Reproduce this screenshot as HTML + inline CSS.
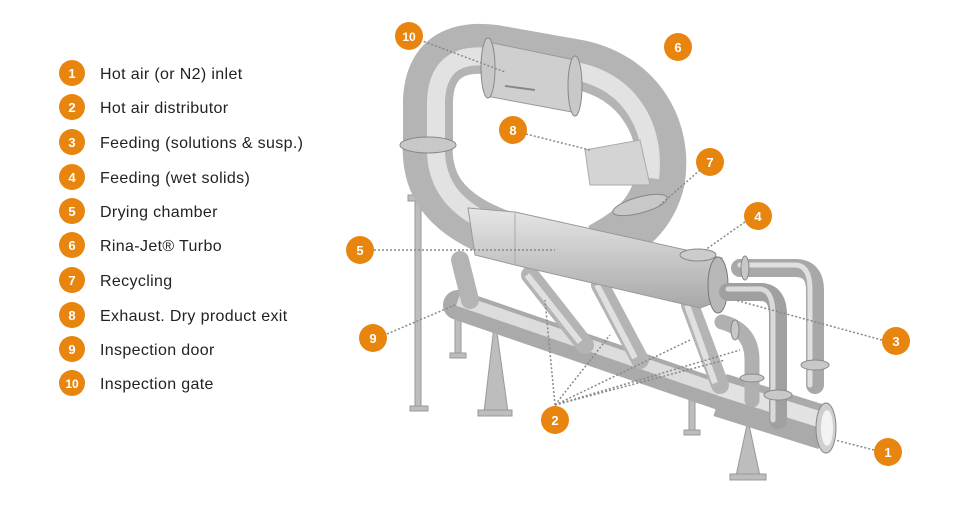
<!DOCTYPE html>
<html><head><meta charset="utf-8"><style>
html,body{margin:0;padding:0;background:#fff;}
body{width:966px;height:514px;overflow:hidden;font-family:"Liberation Sans",sans-serif;}
</style></head><body>
<svg width="966" height="514" viewBox="0 0 966 514" xmlns="http://www.w3.org/2000/svg">
<defs>
<linearGradient id="g1" x1="0" y1="0" x2="0" y2="1"><stop offset="0" stop-color="#e6e6e6"/><stop offset="1" stop-color="#a8a8a8"/></linearGradient>
</defs>
<g font-size="16" fill="#222" letter-spacing="0.35">
<g fill="#e8850f">
<circle cx="72" cy="73" r="13"/><circle cx="72" cy="107" r="13"/><circle cx="72" cy="142" r="13"/><circle cx="72" cy="177" r="13"/><circle cx="72" cy="211" r="13"/><circle cx="72" cy="245" r="13"/><circle cx="72" cy="280" r="13"/><circle cx="72" cy="315" r="13"/><circle cx="72" cy="349" r="13"/><circle cx="72" cy="383" r="13"/>
</g>
<g fill="#fff" font-weight="bold" font-size="13" text-anchor="middle" letter-spacing="0">
<text x="72" y="78">1</text><text x="72" y="112">2</text><text x="72" y="147">3</text><text x="72" y="182">4</text><text x="72" y="216">5</text><text x="72" y="250">6</text><text x="72" y="285">7</text><text x="72" y="320">8</text><text x="72" y="354">9</text><text x="72" y="388" font-size="12">10</text>
</g>
<text x="100" y="79">Hot air (or N2) inlet</text>
<text x="100" y="113">Hot air distributor</text>
<text x="100" y="148">Feeding (solutions &amp; susp.)</text>
<text x="100" y="183">Feeding (wet solids)</text>
<text x="100" y="217">Drying chamber</text>
<text x="100" y="251">Rina-Jet® Turbo</text>
<text x="100" y="286">Recycling</text>
<text x="100" y="321">Exhaust. Dry product exit</text>
<text x="100" y="355">Inspection door</text>
<text x="100" y="389">Inspection gate</text>
</g>

<g fill="#bdbdbd" stroke="#999" stroke-width="1">
<rect x="415" y="198" width="6" height="212"/><rect x="408" y="195" width="20" height="6"/><rect x="410" y="406" width="18" height="5"/>
<rect x="455" y="300" width="6" height="55"/><rect x="450" y="353" width="16" height="5"/>
<polygon points="495,318 484,412 508,412"/><rect x="478" y="410" width="34" height="6"/>
<rect x="689" y="388" width="6" height="45"/><rect x="684" y="430" width="16" height="5"/>
<polygon points="748,420 736,476 760,476"/><rect x="730" y="474" width="36" height="6"/>
</g>

<line x1="458" y1="305" x2="720" y2="395" stroke="#aaa" stroke-width="30" stroke-linecap="round"/>
<line x1="458" y1="300" x2="720" y2="390" stroke="#dcdcdc" stroke-width="12"/>
<line x1="720" y1="395" x2="825" y2="428" stroke="#aaa" stroke-width="44"/>
<line x1="720" y1="388" x2="825" y2="421" stroke="#e2e2e2" stroke-width="16"/>
<ellipse cx="826" cy="428" rx="10" ry="25" fill="#cfcfcf" stroke="#888"/>
<ellipse cx="827" cy="428" rx="6" ry="18" fill="#f3f3f3"/>

<g stroke="#b4b4b4" stroke-width="18" stroke-linecap="round">
<line x1="530" y1="275" x2="585" y2="345"/><line x1="600" y1="285" x2="640" y2="360"/><line x1="690" y1="305" x2="720" y2="385"/>
<line x1="460" y1="260" x2="470" y2="300"/>
</g>
<g stroke="#e0e0e0" stroke-width="6"><line x1="527" y1="275" x2="580" y2="342"/><line x1="597" y1="285" x2="635" y2="358"/><line x1="687" y1="305" x2="715" y2="383"/></g>

<path d="M510 238 C440 215 425 180 428 140 L428 100 C430 55 460 45 495 50 L580 65 C640 78 668 130 660 180 C652 215 630 232 600 248" fill="none" stroke="#b4b4b4" stroke-width="50"/>
<path d="M510 232 C448 210 434 180 436 140 L436 100 C438 62 462 52 495 58 L580 72 C632 84 656 130 650 178" fill="none" stroke="#e2e2e2" stroke-width="18"/>
<polygon points="488,42 575,60 572,112 486,96" fill="#cfcfcf" stroke="#999"/>
<line x1="505" y1="86" x2="535" y2="90" stroke="#888" stroke-width="2"/>
<ellipse cx="488" cy="68" rx="7" ry="30" fill="#c8c8c8" stroke="#888"/>
<ellipse cx="575" cy="86" rx="7" ry="30" fill="#c8c8c8" stroke="#888"/>
<ellipse cx="428" cy="145" rx="28" ry="8" fill="#c8c8c8" stroke="#888"/>
<ellipse cx="640" cy="205" rx="28" ry="8" fill="#c8c8c8" stroke="#888" transform="rotate(-15 640 205)"/>
<polygon points="585,150 640,140 650,185 590,185" fill="#d4d4d4" stroke="#aaa"/>

<polygon points="468,208 515,212 722,258 722,300 700,308 515,265 475,255" fill="url(#g1)" stroke="#999"/>
<line x1="515" y1="212" x2="515" y2="265" stroke="#aaa"/>
<ellipse cx="718" cy="285" rx="10" ry="28" fill="#b8b8b8" stroke="#777"/>
<ellipse cx="698" cy="255" rx="18" ry="6" fill="#ccc" stroke="#888"/>

<g fill="none" stroke-linecap="round">
<path d="M740 268 L795 268 Q815 268 815 290 L815 385" stroke="#a8a8a8" stroke-width="18"/>
<path d="M740 265 L795 265 Q810 265 810 290 L810 385" stroke="#e0e0e0" stroke-width="5"/>
<path d="M728 292 L760 292 Q778 292 778 315 L778 420" stroke="#a0a0a0" stroke-width="18"/>
<path d="M728 289 L760 289 Q773 290 773 315 L773 420" stroke="#dadada" stroke-width="5"/>
<path d="M722 322 Q752 330 752 360 L752 400" stroke="#b0b0b0" stroke-width="15"/>
</g>
<g fill="#c8c8c8" stroke="#888">
<ellipse cx="815" cy="365" rx="14" ry="5"/><ellipse cx="778" cy="395" rx="14" ry="5"/><ellipse cx="752" cy="378" rx="12" ry="4"/>
<ellipse cx="745" cy="268" rx="4" ry="12"/><ellipse cx="735" cy="330" rx="4" ry="10"/>
</g>

<g stroke="#888" stroke-width="1.5" stroke-dasharray="2 2" fill="none">
<line x1="420" y1="40" x2="505" y2="72"/>
<line x1="526" y1="134" x2="590" y2="150"/>
<line x1="700" y1="170" x2="660" y2="205"/>
<line x1="745" y1="222" x2="705" y2="250"/>
<line x1="374" y1="250" x2="555" y2="250"/>
<line x1="387" y1="334" x2="455" y2="305"/>
<line x1="882" y1="340" x2="735" y2="300"/>
<line x1="874" y1="450" x2="835" y2="440"/>
<line x1="555" y1="405" x2="545" y2="300"/><line x1="555" y1="405" x2="610" y2="335"/><line x1="555" y1="405" x2="690" y2="340"/><line x1="555" y1="405" x2="725" y2="360"/><line x1="555" y1="405" x2="740" y2="350"/>
</g>

<g fill="#e8850f">
<circle cx="409" cy="36" r="14"/><circle cx="678" cy="47" r="14"/><circle cx="513" cy="130" r="14"/><circle cx="710" cy="162" r="14"/><circle cx="758" cy="216" r="14"/><circle cx="360" cy="250" r="14"/><circle cx="373" cy="338" r="14"/><circle cx="896" cy="341" r="14"/><circle cx="555" cy="420" r="14"/><circle cx="888" cy="452" r="14"/>
</g>
<g fill="#fff" font-weight="bold" font-size="13" text-anchor="middle" font-family="Liberation Sans, sans-serif">
<text x="409" y="41" font-size="12">10</text><text x="678" y="52">6</text><text x="513" y="135">8</text><text x="710" y="167">7</text><text x="758" y="221">4</text><text x="360" y="255">5</text><text x="373" y="343">9</text><text x="896" y="346">3</text><text x="555" y="425">2</text><text x="888" y="457">1</text>
</g>
</svg>
</body></html>
